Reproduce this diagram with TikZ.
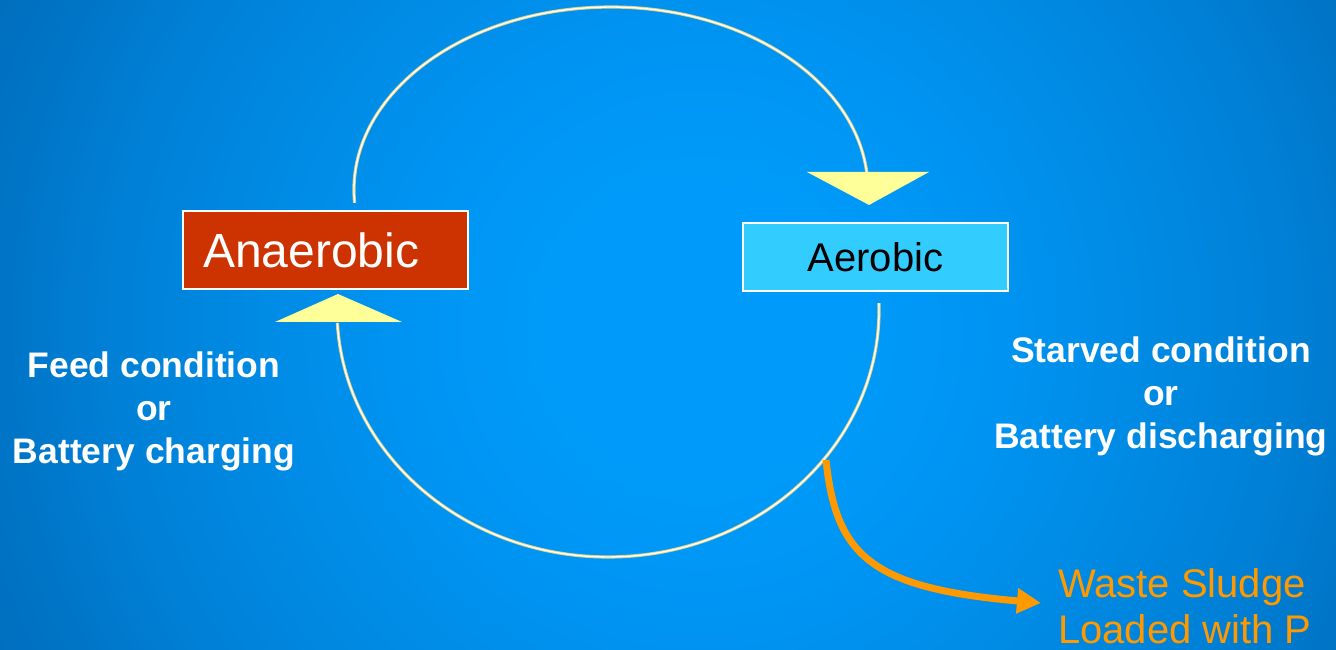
\documentclass[tikz,border=0pt]{standalone}
\usepackage{fontspec}
\setmainfont{Liberation Sans}
\usetikzlibrary{arrows.meta}
\definecolor{bgA}{RGB}{0,155,250}
\definecolor{bgB}{RGB}{0,148,242}
\definecolor{bgC}{RGB}{0,138,228}
\definecolor{bgD}{RGB}{0,128,214}
\definecolor{bgE}{RGB}{0,116,198}
\definecolor{bgF}{RGB}{0,110,188}
\definecolor{bgG}{RGB}{0,100,175}
\definecolor{anaeroRed}{RGB}{204,51,0}
\definecolor{aeroCyan}{RGB}{51,204,255}
\definecolor{sludgeOrange}{RGB}{255,153,0}
\definecolor{headYellow}{RGB}{255,255,153}
\definecolor{trackEdge}{RGB}{214,210,150}
\definecolor{trackCore}{RGB}{255,255,235}
\pgfdeclareradialshading{bgshade}{\pgfpoint{0bp}{0bp}}{color(0bp)=(bgA); color(10bp)=(bgA); color(21bp)=(bgB); color(32bp)=(bgC); color(42bp)=(bgD); color(50bp)=(bgE); color(56bp)=(bgF); color(70bp)=(bgG)}
\begin{document}
\begin{tikzpicture}[x=1pt,y=1pt,
  phasebox/.style={draw=white, line width=2.5pt, inner ysep=0pt},
  sidetext/.style={text=white, align=center, inner sep=0pt, font=\bfseries\fontsize{35.5}{43}\selectfont},
  track/.style={draw=trackCore, line width=1.4pt, preaction={draw=trackEdge, line width=3.2pt}},
  headtri/.style={fill=headYellow, draw=none},
  sludge/.style={draw=sludgeOrange, line width=7pt, -{Triangle[width=24pt,length=24pt]}}
]
\useasboundingbox (0,0) rectangle (1336,650);
\begin{scope}
  \clip (0,0) rectangle (1336,650);
  \begin{pgfscope}
    \pgftransformshift{\pgfpoint{700pt}{320pt}}
    \pgftransformscale{14}
    \pgflowlevelsynccm
    \pgfuseshading{bgshade}
  \end{pgfscope}
\end{scope}

% phase boxes
\node[phasebox, fill=anaeroRed, text=white, minimum width=285pt, minimum height=78pt,
      text width=245pt, inner xsep=20pt, align=left,
      font=\fontsize{48}{48}\selectfont] (anaerobic) at (325.5,400) {Anaerobic};
\node[phasebox, fill=aeroCyan, text=black, minimum width=265pt, minimum height=68pt,
      font=\fontsize{40}{40}\selectfont] (aerobic) at (875.5,393) {Aerobic};

% side texts
\node[sidetext, anchor=north] (feed) at (154,298.7) {Feed condition\\or\\Battery charging};
\node[sidetext, anchor=north] (starved) at (1161,313.7) {Starved condition\\or\\Battery discharging};
\node[text=sludgeOrange, align=left, inner sep=0pt, anchor=north west,
      font=\fontsize{40}{46}\selectfont] (waste) at (1058,82) {Waste Sludge\\Loaded with P};

% cycle arcs
\coordinate (topStart) at (354.6,447.2);
\coordinate (botStart) at (878.9,346.9);
\draw[track] (topStart) arc[start angle=184, end angle=5.6, x radius=257pt, y radius=183pt] coordinate (topEnd);
\draw[track] (botStart) arc[start angle=1.6, end angle=-177, x radius=271pt, y radius=247pt] coordinate (botEnd);

% arrow heads
\fill[headtri] (807,478) -- (929,478) -- (869,445) -- cycle;
\fill[headtri] (275,328) -- (402,328) -- (338,356) -- cycle;

% waste sludge arrow
\coordinate (sludgeStart) at (826,190);
\coordinate (sludgeEnd) at (1041,47);
\draw[sludge] (sludgeStart) .. controls (836,95) and (870,62) .. (sludgeEnd);
\end{tikzpicture}
\end{document}
